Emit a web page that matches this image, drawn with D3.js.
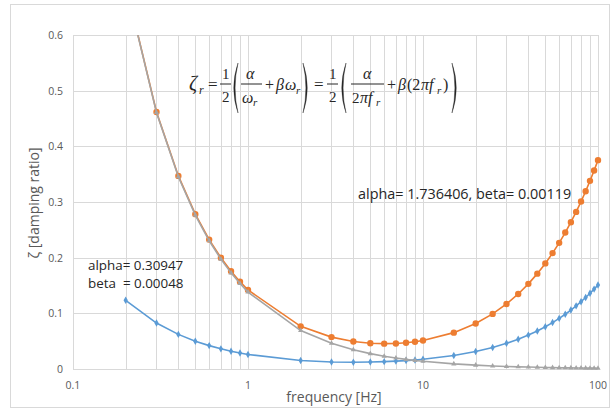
<!DOCTYPE html>
<html lang="en">
<head>
<meta charset="UTF-8">
<title>Damping ratio vs frequency</title>
<style>
    body { margin: 0; background: #fff; }
    svg { display: block; }
    .tick-label { font-family: "Open Sans", "Liberation Sans", sans-serif; font-size: 10.5px; fill: #595959; }
    .axis-title { font-family: "Open Sans", "Liberation Sans", sans-serif; font-size: 14px; fill: #595959; }
    .note { font-family: "Open Sans", "Liberation Sans", sans-serif; fill: #262626; }
    .math { font-family: "Liberation Serif", "DejaVu Serif", serif; fill: #262626; }
</style>
</head>
<body>
<svg id="chart"></svg>
<script src="https://cdnjs.cloudflare.com/ajax/libs/d3/7.9.0/d3.min.js"></script>
<script>
    // frequencies [Hz] of the plotted points
    const freqs = [0.2, 0.3, 0.4, 0.5, 0.6, 0.7, 0.8, 0.9,
        1, 2, 3, 4, 5, 6, 7, 8, 9,
        10, 15, 20, 25, 30, 35, 40, 45, 50, 55, 60, 65, 70, 75, 80, 85, 90, 95, 100];

    // alpha = 0.30947, beta = 0.00048
    const blueSeries = [0.1234, 0.0825, 0.0622, 0.0500, 0.0420, 0.0362, 0.0320, 0.0287,
        0.0261, 0.0153, 0.0127, 0.0122, 0.0125, 0.0132, 0.0141, 0.0151, 0.0163,
        0.0175, 0.0243, 0.0314, 0.0387, 0.0461, 0.0535, 0.0609, 0.0684, 0.0759, 0.0834,
        0.0909, 0.0984, 0.1059, 0.1134, 0.1209, 0.1285, 0.1360, 0.1435, 0.1510];

    // alpha = 1.736406, beta = 0.00119
    const orangeSeries = [0.6916, 0.4617, 0.3469, 0.2782, 0.2325, 0.2000, 0.1757, 0.1569,
        0.1419, 0.0766, 0.0573, 0.0495, 0.0463, 0.0455, 0.0459, 0.0472, 0.0490,
        0.0512, 0.0653, 0.0817, 0.0990, 0.1168, 0.1348, 0.1530, 0.1713, 0.1897, 0.2081,
        0.2266, 0.2451, 0.2637, 0.2822, 0.3008, 0.3194, 0.3380, 0.3566, 0.3752];

    // alpha term only (alpha = 1.736406)
    const graySeries = [0.6909, 0.4606, 0.3454, 0.2764, 0.2303, 0.1974, 0.1727, 0.1535,
        0.1382, 0.0691, 0.0461, 0.0345, 0.0276, 0.0230, 0.0197, 0.0173, 0.0154,
        0.0138, 0.0092, 0.0069, 0.0055, 0.0046, 0.0039, 0.0035, 0.0031, 0.0028, 0.0025,
        0.0023, 0.0021, 0.0020, 0.0018, 0.0017, 0.0016, 0.0015, 0.0015, 0.0014];

    const xTicks = [0.1, 1, 10, 100];
    const yTicks = [0, 0.1, 0.2, 0.3, 0.4, 0.5, 0.6];
    const xGrid = [0.1, 0.2, 0.3, 0.4, 0.5, 0.6, 0.7, 0.8, 0.9, 1, 2, 3, 4, 5, 6, 7, 8, 9,
        10, 20, 30, 40, 50, 60, 70, 80, 90, 100];

    const W = 613, H = 412;
    const svg = d3.select("#chart").attr("width", W).attr("height", H);

    // chart frame
    svg.append("rect")
        .attr("x", 10.5).attr("y", 4.5)
        .attr("width", 599).attr("height", 403)
        .attr("fill", "#fff").attr("stroke", "#d9d9d9");

    const x = d3.scaleLog().domain([0.1, 100]).range([73, 598]);
    const y = d3.scaleLinear().domain([0, 0.6]).range([369, 35]);

    svg.append("clipPath").attr("id", "plot-clip")
        .append("rect")
        .attr("x", 70).attr("y", 35)
        .attr("width", 535).attr("height", 338);

    // gridlines
    svg.append("g").selectAll("line")
        .data(xGrid)
        .enter().append("line")
        .attr("x1", d => Math.round(x(d)) + 0.5).attr("x2", d => Math.round(x(d)) + 0.5)
        .attr("y1", y(0.6)).attr("y2", y(0))
        .attr("stroke", "#d9d9d9").attr("stroke-width", 1);

    svg.append("g").selectAll("line")
        .data(yTicks)
        .enter().append("line")
        .attr("x1", x(0.1)).attr("x2", x(100))
        .attr("y1", d => Math.round(y(d)) + 0.5).attr("y2", d => Math.round(y(d)) + 0.5)
        .attr("stroke", "#d9d9d9").attr("stroke-width", 1);

    // tick labels
    svg.append("g").selectAll("text")
        .data(yTicks)
        .enter().append("text")
        .attr("class", "tick-label")
        .attr("x", 63).attr("y", d => y(d) + 4)
        .attr("text-anchor", "end")
        .text(d => d === 0 ? "0" : d3.format(".1f")(d));

    svg.append("g").selectAll("text")
        .data(xTicks)
        .enter().append("text")
        .attr("class", "tick-label")
        .attr("x", d => x(d)).attr("y", 389)
        .attr("text-anchor", "middle")
        .text(d => String(d));

    // axis titles
    svg.append("text")
        .attr("class", "axis-title")
        .attr("x", 334).attr("y", 402)
        .attr("text-anchor", "middle")
        .text("frequency [Hz]");

    svg.append("text")
        .attr("class", "axis-title")
        .attr("transform", "translate(39,203) rotate(-90)")
        .attr("text-anchor", "middle")
        .text("ζ [damping ratio]");

    // series
    const plot = svg.append("g").attr("clip-path", "url(#plot-clip)");
    const line = d3.line().x(d => x(d[0])).y(d => y(d[1]));

    function drawSeries(values, color, symbol, size) {
        const pts = freqs.map((f, i) => [f, values[i]]);
        plot.append("path")
            .datum(pts)
            .attr("fill", "none")
            .attr("stroke", color)
            .attr("stroke-width", 1.6)
            .attr("d", line);
        plot.append("g").selectAll("path")
            .data(pts)
            .enter().append("path")
            .attr("transform", d => `translate(${x(d[0])},${y(d[1])})`)
            .attr("d", d3.symbol().type(symbol).size(size))
            .attr("fill", color);
    }

    drawSeries(blueSeries, "#5b9bd5", d3.symbolDiamond, 16);
    drawSeries(orangeSeries, "#ed7d31", d3.symbolCircle, 32);
    drawSeries(graySeries, "#a5a5a5", d3.symbolTriangle, 12);

    // annotations
    svg.append("text").attr("class", "note")
        .attr("x", 358).attr("y", 199)
        .attr("font-size", 14.4)
        .text("alpha= 1.736406, beta= 0.00119");
    svg.append("text").attr("class", "note")
        .attr("x", 88).attr("y", 270)
        .attr("font-size", 13.4)
        .text("alpha= 0.30947");
    svg.append("text").attr("class", "note")
        .attr("x", 88).attr("y", 288)
        .attr("font-size", 13.4)
        .attr("xml:space", "preserve")
        .text("beta  = 0.00048");

    // equation
    const eq = svg.append("g").attr("class", "math").attr("transform", "translate(0,2)");
    function t(px, py, s, size, italic) {
        eq.append("text")
            .attr("x", px).attr("y", py)
            .attr("font-size", size)
            .attr("font-style", italic ? "italic" : "normal")
            .text(s);
    }
    function bar(x1, x2) {
        eq.append("line").attr("x1", x1).attr("x2", x2)
            .attr("y1", 82).attr("y2", 82)
            .attr("stroke", "#262626").attr("stroke-width", 1);
    }
    function paren(px, open) {
        const d = open ? 1 : -1;
        const top = 61, bot = 111, mid = 86;
        const p = d3.path();
        p.moveTo(px + 6 * d, top);
        p.quadraticCurveTo(px - 2.5 * d, mid, px + 6 * d, bot);
        p.quadraticCurveTo(px + 0.2 * d, mid, px + 6 * d, top);
        eq.append("path").attr("d", p.toString()).attr("fill", "#262626")
            .attr("stroke", "#262626").attr("stroke-width", 0.4);
    }

    t(189, 88, "ζ", 20, true);
    t(199, 92, "r", 12, true);
    t(208, 88, "=", 17, false);
    t(222, 77, "1", 15, false);
    t(222, 100, "2", 15, false);
    bar(220, 231);
    paren(232, true);
    t(246, 77, "α", 16, true);
    t(242, 101, "ω", 16, true);
    t(253, 104, "r", 11, true);
    bar(241, 262);
    t(265, 88, "+", 16, false);
    t(276, 88, "β", 16, true);
    t(285, 88, "ω", 16, true);
    t(296, 92, "r", 11, true);
    paren(309, false);
    t(314, 88, "=", 17, false);
    t(329, 77, "1", 15, false);
    t(329, 100, "2", 15, false);
    bar(327, 338);
    paren(340, true);
    t(363, 77, "α", 16, true);
    t(352, 101, "2", 15, false);
    t(360, 101, "πf", 16, true);
    t(376, 104, "r", 11, true);
    bar(351, 384);
    t(387, 88, "+", 16, false);
    t(398, 88, "β", 16, true);
    t(407, 88, "(2", 16, false);
    t(421, 88, "πf", 16, true);
    t(437, 92, "r", 11, true);
    t(443, 88, ")", 16, false);
    paren(458, false);
</script>
</body>
</html>
